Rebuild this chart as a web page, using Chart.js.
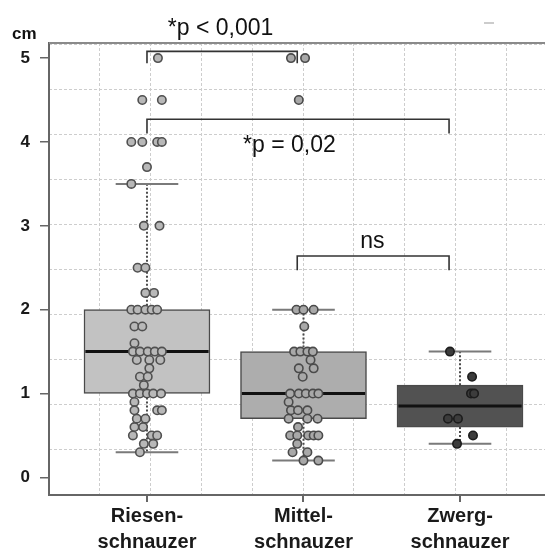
<!DOCTYPE html>
<html>
<head>
<meta charset="utf-8">
<script src="https://cdn.jsdelivr.net/npm/chart.js@4/dist/chart.umd.min.js"></script>
<style>
  html, body { margin: 0; padding: 0; background: #fff; }
  #wrap { width: 545px; height: 550px; }
</style>
</head>
<body>
<div id="wrap"><canvas id="chart" width="545" height="550"></canvas></div>
<script>
// Kategorien und Kennwerte der Boxplots (cm)
const categories = [['Riesen-', 'schnauzer'], ['Mittel-', 'schnauzer'], ['Zwerg-', 'schnauzer']];
const q1 = [1.0, 0.7, 0.6];
const medians = [1.5, 1.0, 0.85];
const q3 = [2.0, 1.5, 1.1];
const whiskerLow = [0.3, 0.2, 0.4];
const whiskerHigh = [3.5, 2.0, 1.5];
const yTicks = [0, 1, 2, 3, 4, 5];

// Einzelwerte (y) und horizontale Streuung (in Kategorie-Einheiten)
const riesenY = [5, 4.5, 4.5, 4, 4, 4, 4, 3.7, 3.5, 3, 3, 2.5, 2.5, 2.2, 2.2, 2, 2, 2, 2, 2,
  1.8, 1.8, 1.6, 1.5, 1.5, 1.5, 1.5, 1.5, 1.4, 1.4, 1.4, 1.3, 1.2, 1.2, 1.1, 1, 1, 1, 1, 1,
  0.9, 0.8, 0.8, 0.8, 0.7, 0.7, 0.6, 0.6, 0.5, 0.5, 0.5, 0.4, 0.4, 0.3];
const riesenJitter = [0.07, -0.03, 0.095, -0.1, -0.03, 0.065, 0.095, 0, -0.1, -0.02, 0.08, -0.06, -0.01, -0.01, 0.045, -0.1, -0.06, -0.01, 0.03, 0.065,
  -0.08, -0.03, -0.08, -0.09, -0.045, 0.005, 0.05, 0.095, -0.065, 0.015, 0.085, 0.015, -0.045, 0.005, -0.02, -0.09, -0.045, 0, 0.04, 0.09,
  -0.08, -0.08, 0.065, 0.095, -0.065, -0.01, -0.08, -0.025, -0.09, 0.03, 0.065, -0.02, 0.04, -0.045];

const mittelY = [5, 5, 4.5, 2, 2, 2, 1.8, 1.5, 1.5, 1.5, 1.5, 1.4, 1.3, 1.3, 1.2, 1, 1, 1, 1, 1,
  0.9, 0.8, 0.8, 0.8, 0.7, 0.7, 0.7, 0.6, 0.5, 0.5, 0.5, 0.5, 0.5, 0.4, 0.3, 0.3, 0.2, 0.2];
const mittelJitter = [-0.08, 0.01, -0.03, -0.045, 0, 0.065, 0.005, -0.06, -0.02, 0.025, 0.06, 0.045, -0.03, 0.065, -0.005, -0.085, -0.03, 0.015, 0.06, 0.095,
  -0.095, -0.08, -0.035, 0.025, -0.095, 0.025, 0.09, -0.035, -0.085, -0.04, 0.03, 0.065, 0.095, -0.04, -0.07, 0.025, 0, 0.095];

const zwergY = [1.5, 1.2, 1.0, 1.0, 0.7, 0.7, 0.5, 0.4];
const zwergJitter = [-0.064, 0.077, 0.07, 0.09, -0.077, -0.013, 0.083, -0.019];

// Signifikanz-Klammern und Beschriftungen (Datenkoordinaten)
const brackets = [
  { from: 0, to: 0.96, top: 5.08, leg: 4.94 },
  { from: 0, to: 1.93, top: 4.27, leg: 4.1 },
  { from: 0.96, to: 1.93, top: 2.64, leg: 2.47 }
];
const bracketLabels = [
  { text: '*p < 0,001', x: 0.47, y: 5.27 },
  { text: '*p = 0,02', x: 0.91, y: 3.88 },
  { text: 'ns', x: 1.44, y: 2.73 }
];

const boxColors = ['#c2c2c2', '#adadad', '#525252'];
const FONT = "'Liberation Sans', Arial, sans-serif";

const toPoints = (ys, jit, idx) => ys.map((y, i) => ({ x: idx + jit[i], y: y }));

const X_MIN = -0.626, X_MAX = 2.543;

/** Zeichnet Whisker, Kappen und Mediane über die Boxen. */
const boxplotPlugin = {
  id: 'boxplotExtras',
  afterDatasetDraw(chart, args) {
    if (args.meta.type !== 'bar') return;
    const { ctx } = chart;
    const xs = chart.scales.x, ys = chart.scales.y;
    const capHalf = 0.2, boxHalf = 0.4;
    ctx.save();
    categories.forEach((c, i) => {
      const cx = xs.getPixelForValue(i);
      // gestrichelte Whisker
      ctx.strokeStyle = '#4a4a4a';
      ctx.lineWidth = 2;
      ctx.setLineDash([2, 2]);
      ctx.beginPath();
      ctx.moveTo(cx, ys.getPixelForValue(q3[i]));
      ctx.lineTo(cx, ys.getPixelForValue(whiskerHigh[i]));
      ctx.moveTo(cx, ys.getPixelForValue(q1[i]));
      ctx.lineTo(cx, ys.getPixelForValue(whiskerLow[i]));
      ctx.stroke();
      // Kappen
      ctx.setLineDash([]);
      ctx.strokeStyle = '#7a7a7a';
      ctx.beginPath();
      [whiskerHigh[i], whiskerLow[i]].forEach(v => {
        const py = ys.getPixelForValue(v);
        ctx.moveTo(xs.getPixelForValue(i - capHalf), py);
        ctx.lineTo(xs.getPixelForValue(i + capHalf), py);
      });
      ctx.stroke();
      // Median
      ctx.strokeStyle = '#111';
      ctx.lineWidth = 3;
      ctx.beginPath();
      const my = ys.getPixelForValue(medians[i]);
      ctx.moveTo(xs.getPixelForValue(i - boxHalf) + 1, my);
      ctx.lineTo(xs.getPixelForValue(i + boxHalf) - 1, my);
      ctx.stroke();
    });
    ctx.restore();
  },
  afterDraw(chart) {
    const { ctx, chartArea } = chart;
    const xs = chart.scales.x, ys = chart.scales.y;
    ctx.save();
    // obere Rahmenlinie
    ctx.strokeStyle = '#8a8a8a';
    ctx.lineWidth = 2;
    ctx.beginPath();
    ctx.moveTo(chartArea.left, chartArea.top);
    ctx.lineTo(chartArea.right, chartArea.top);
    ctx.stroke();
    // Klammern
    ctx.strokeStyle = '#333';
    ctx.lineWidth = 1.6;
    brackets.forEach(b => {
      const x1 = xs.getPixelForValue(b.from), x2 = xs.getPixelForValue(b.to);
      const yt = ys.getPixelForValue(b.top), yl = ys.getPixelForValue(b.leg);
      ctx.beginPath();
      ctx.moveTo(x1, yl);
      ctx.lineTo(x1, yt);
      ctx.lineTo(x2, yt);
      ctx.lineTo(x2, yl);
      ctx.stroke();
    });
    ctx.fillStyle = '#111';
    ctx.font = '23px ' + FONT;
    ctx.textAlign = 'center';
    ctx.textBaseline = 'alphabetic';
    bracketLabels.forEach(l => {
      ctx.fillText(l.text, xs.getPixelForValue(l.x), ys.getPixelForValue(l.y));
    });
    // Achsentitel
    ctx.font = 'bold 17px ' + FONT;
    ctx.textAlign = 'left';
    ctx.fillText('cm', 12, 39);
    // kleiner Strich oben rechts
    ctx.strokeStyle = '#bbb';
    ctx.lineWidth = 1.5;
    ctx.beginPath();
    ctx.moveTo(484, 23);
    ctx.lineTo(494, 23);
    ctx.stroke();
    ctx.restore();
  }
};

const pointStyle = (fill, border) => ({
  type: 'scatter',
  pointRadius: 4.2,
  pointBorderWidth: 1.6,
  pointBackgroundColor: fill,
  pointBorderColor: border,
  pointHoverRadius: 4.2,
  showLine: false
});

new Chart(document.getElementById('chart'), {
  data: {
    datasets: [
      { ...pointStyle('#b8b8b8', '#505050'), data: toPoints(riesenY, riesenJitter, 0) },
      { ...pointStyle('#a8a8a8', '#4a4a4a'), data: toPoints(mittelY, mittelJitter, 1) },
      { ...pointStyle('#3c3c3c', '#1c1c1c'), data: toPoints(zwergY, zwergJitter, 2) },
      {
        type: 'bar',
        data: categories.map((c, i) => ({ x: i, y: [q1[i], q3[i]] })),
        backgroundColor: boxColors,
        borderColor: '#4a4a4a',
        borderWidth: 1.5,
        borderSkipped: false,
        barThickness: 126
      }
    ]
  },
  options: {
    responsive: false,
    animation: false,
    layout: { autoPadding: false, padding: { top: 43, left: 0, right: 0, bottom: 0 } },
    plugins: { legend: { display: false }, tooltip: { enabled: false } },
    scales: {
      x: {
        type: 'linear', min: X_MIN, max: X_MAX, offset: false, display: false
      },
      xl: {
        type: 'linear', position: 'bottom', min: X_MIN, max: X_MAX, offset: false,
        afterBuildTicks: s => { s.ticks = categories.map((c, i) => ({ value: i })); },
        afterFit: s => { s.height = 55; },
        border: { display: true, color: '#666', width: 2 },
        grid: { drawOnChartArea: false, drawTicks: true, tickLength: 7, color: '#666', lineWidth: 2 },
        ticks: {
          callback: v => categories[v],
          color: '#1a1a1a',
          padding: 1,
          maxRotation: 0,
          autoSkip: false,
          font: { family: FONT, size: 20, weight: 'bold', lineHeight: 1.3 }
        }
      },
      xg: {
        type: 'linear', position: 'top', min: 0, max: 9.76,
        afterBuildTicks: s => { s.ticks = Array.from({ length: 10 }, (v, i) => ({ value: i })); },
        afterFit: s => { s.height = 0; },
        border: { display: false, dash: [3, 2] },
        grid: { drawTicks: false, color: '#cdcdcd', lineWidth: 1 },
        ticks: { display: false }
      },
      y: {
        type: 'linear', position: 'left', min: -0.21, max: 5.18,
        afterBuildTicks: s => { s.ticks = yTicks.map(v => ({ value: v })); },
        afterFit: s => { s.width = 49; },
        border: { display: true, color: '#666', width: 2 },
        grid: { drawOnChartArea: false, drawTicks: true, tickLength: 9, color: '#666', lineWidth: 1.5 },
        ticks: {
          color: '#1a1a1a',
          padding: 10,
          font: { family: FONT, size: 17, weight: 'bold' }
        }
      },
      yg: {
        type: 'linear', position: 'right', min: 0, max: 10.04,
        afterBuildTicks: s => { s.ticks = Array.from({ length: 11 }, (v, i) => ({ value: i })); },
        afterFit: s => { s.width = 0; },
        border: { display: false, dash: [3, 2] },
        grid: { drawTicks: false, color: '#cdcdcd', lineWidth: 1 },
        ticks: { display: false }
      }
    }
  },
  plugins: [boxplotPlugin]
});
</script>
</body>
</html>
